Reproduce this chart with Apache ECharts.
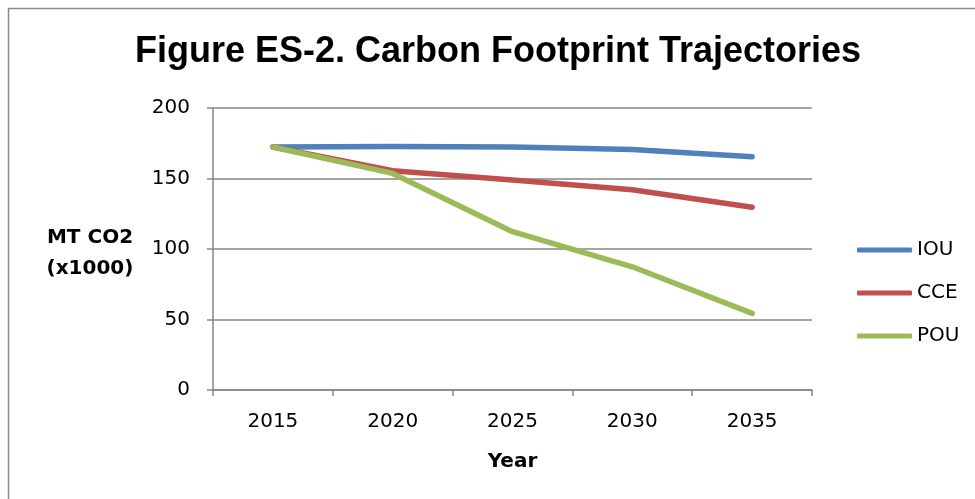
<!DOCTYPE html>
<html>
<head>
<meta charset="utf-8">
<script src="https://cdn.jsdelivr.net/npm/echarts@6/dist/echarts.min.js"></script>
<style>
  html, body { margin: 0; padding: 0; background: #fff; }
  #chart { width: 975px; height: 499px; }
</style>
</head>
<body>
<div id="chart"></div>
<script>
// Carbon footprint trajectories by utility type (MT CO2, thousands)
const years = ['2015', '2020', '2025', '2030', '2035'];
const iou = [172.3, 172.7, 172.3, 170.6, 165.4];
const cce = [172.3, 155.5, 149, 142, 129.6];
const pou = [172.3, 153.6, 112.3, 87.4, 54.3];
const yTicks = { min: 0, max: 200, interval: 50 };

const FONT = '"DejaVu Sans", "Noto Sans", sans-serif';
const TITLE_FONT = '"Liberation Sans", Arial, sans-serif';
const GRID_GRAY = '#868686';

const chart = echarts.init(document.getElementById('chart'), null, { renderer: 'canvas' });

function lineSeries(name, data, color) {
  return {
    name, type: 'line', data,
    symbol: 'none',
    smooth: false,
    lineStyle: { color, width: 5.5, cap: 'round', join: 'round' },
    itemStyle: { color },
    emphasis: { disabled: true }
  };
}

chart.setOption({
  animation: false,
  backgroundColor: '#ffffff',
  title: {
    text: 'Figure ES-2. Carbon Footprint Trajectories',
    left: 130,
    top: 29,
    textStyle: { fontFamily: TITLE_FONT, fontWeight: 'bold', fontSize: 36, color: '#000' }
  },
  grid: { left: 213, top: 108, width: 599, height: 282 },
  legend: {
    orient: 'vertical',
    left: 852,
    top: 235,
    icon: 'roundRect',
    itemWidth: 55,
    itemHeight: 5,
    itemGap: 23,
    data: ['IOU', 'CCE', 'POU'],
    textStyle: { fontFamily: FONT, fontSize: 20, color: '#000' }
  },
  xAxis: {
    type: 'category',
    data: years,
    boundaryGap: true,
    axisLine: { lineStyle: { color: GRID_GRAY, width: 1.5 } },
    axisTick: { show: true, length: 6, lineStyle: { color: GRID_GRAY, width: 1.5 } },
    axisLabel: { fontFamily: FONT, fontSize: 20, color: '#000', margin: 22 },
    name: 'Year',
    nameLocation: 'middle',
    nameGap: 62,
    nameTextStyle: { fontFamily: FONT, fontWeight: 'bold', fontSize: 20, color: '#000' }
  },
  yAxis: {
    type: 'value',
    min: yTicks.min, max: yTicks.max, interval: yTicks.interval,
    axisLine: { show: true, lineStyle: { color: GRID_GRAY, width: 1.5 } },
    axisTick: { show: true, length: 6, lineStyle: { color: GRID_GRAY, width: 1.5 } },
    splitLine: { lineStyle: { color: GRID_GRAY, width: 1.5 } },
    axisLabel: { fontFamily: FONT, fontSize: 20, color: '#000', margin: 23 }
  },
  graphic: [
    {
      type: 'rect',
      shape: { x: 8.5, y: 8.5, width: 1000, height: 600 },
      style: { fill: 'none', stroke: '#8c8c8c', lineWidth: 1.5 },
      silent: true
    },
    {
      type: 'text',
      x: 90, y: 253,
      style: {
        text: 'MT CO2\n(x1000)',
        fontFamily: FONT, fontWeight: 'bold', fontSize: 20,
        fill: '#000', align: 'center', verticalAlign: 'middle', lineHeight: 31
      },
      silent: true
    }
  ],
  series: [
    lineSeries('IOU', iou, '#4F81BD'),
    lineSeries('CCE', cce, '#C0504D'),
    lineSeries('POU', pou, '#9BBB59')
  ]
});
</script>
</body>
</html>
